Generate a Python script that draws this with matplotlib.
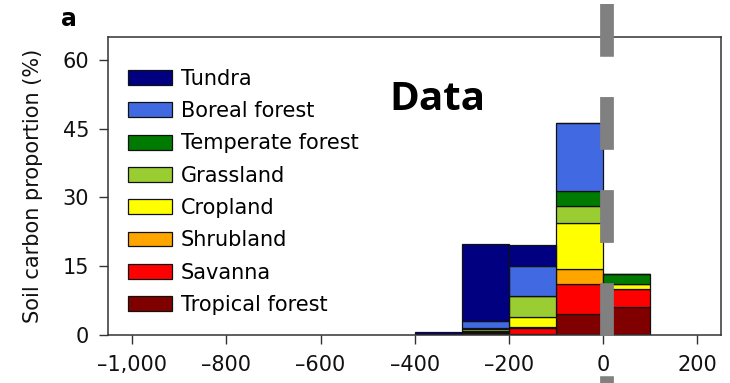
import numpy as np
import matplotlib.pyplot as plt
from matplotlib.patches import Patch

plt.rcParams['font.family'] = ['DejaVu Sans']
plt.rcParams['lines.scale_dashes'] = False

# Bin centres (width 100) and biome contributions, bottom -> top of the stack
bin_centers = [-350, -250, -150, -50, 50]
biomes = ["Tropical forest", "Savanna", "Shrubland", "Cropland",
          "Grassland", "Temperate forest", "Boreal forest", "Tundra"]
tropical = [0.0, 0.5, 0.2, 4.6, 6.0]
savanna = [0.0, 0.2, 1.4, 6.5, 4.1]
shrubland = [0.0, 0.0, 0.2, 3.3, 0.0]
cropland = [0.0, 0.1, 2.2, 10.1, 1.1]
grassland = [0.0, 0.4, 4.6, 3.6, 0.0]
temperate = [0.0, 0.3, 0.0, 3.3, 2.2]
boreal = [0.0, 1.6, 6.5, 14.8, 0.0]
tundra = [0.6, 16.8, 4.6, 0.0, 0.0]
colors = ["#800000", "#ff0000", "#ffa500", "#ffff00",
          "#9acd32", "#007a00", "#4169e1", "#000080"]

xticks = [-1000, -800, -600, -400, -200, 0, 200]
xticklabels = ["\u20131,000", "\u2013800", "\u2013600", "\u2013400", "\u2013200", "0", "200"]
yticks = [0, 15, 30, 45, 60]

fig = plt.figure(figsize=(7.3, 3.83), dpi=100)
ax = fig.add_axes([108 / 730, 48 / 383, 613 / 730, 298 / 383])

series = [tropical, savanna, shrubland, cropland, grassland, temperate, boreal, tundra]
bottom = np.zeros(len(bin_centers))
for vals, col in zip(series, colors):
    ax.bar(bin_centers, vals, width=100, bottom=bottom, color=col,
           edgecolor="#111111", linewidth=0.9)
    bottom += np.array(vals)

ax.set_xlim(-1051, 250)
ax.set_ylim(0, 65)
ax.set_xticks(xticks)
ax.set_xticklabels(xticklabels)
ax.set_yticks(yticks)
ax.tick_params(length=6.5, width=1.0, labelsize=15,
               color="#333333", labelcolor="#111111")
ax.tick_params(axis="x", pad=8)
ax.tick_params(axis="y", pad=7)
for s in ax.spines.values():
    s.set_color("#333333")
    s.set_linewidth(1.1)

ax.set_ylabel("Soil carbon proportion (%)", fontsize=15, color="#111111")
ax.yaxis.set_label_coords(-0.106, 0.5)

# legend, Tundra first
handles = [Patch(facecolor=c, edgecolor="#111111", linewidth=0.9)
           for c in colors[::-1]]
ax.legend(handles, biomes[::-1], loc="upper left", bbox_to_anchor=(0.0326, 0.893),
          frameon=False, fontsize=15, handlelength=2.1, handleheight=0.72,
          handletextpad=0.45, labelspacing=0.59, borderpad=0, borderaxespad=0)

# grey dashed marker line through zero
ax.axvline(8.5, ymin=(335 - 4) / 298, ymax=(335 - 383) / 298, color="#808080",
           linewidth=9.9, dashes=(38, 29), clip_on=False, zorder=5)

fig.text(389 / 730, 1 - 110 / 383, "Data", fontsize=29, fontweight="bold",
         family="Open Sans", ha="left", va="baseline")
fig.text(61 / 730, 1 - 26 / 383, "a", fontsize=17, fontweight="bold",
         ha="left", va="baseline")

plt.savefig("out.png", dpi=100)
